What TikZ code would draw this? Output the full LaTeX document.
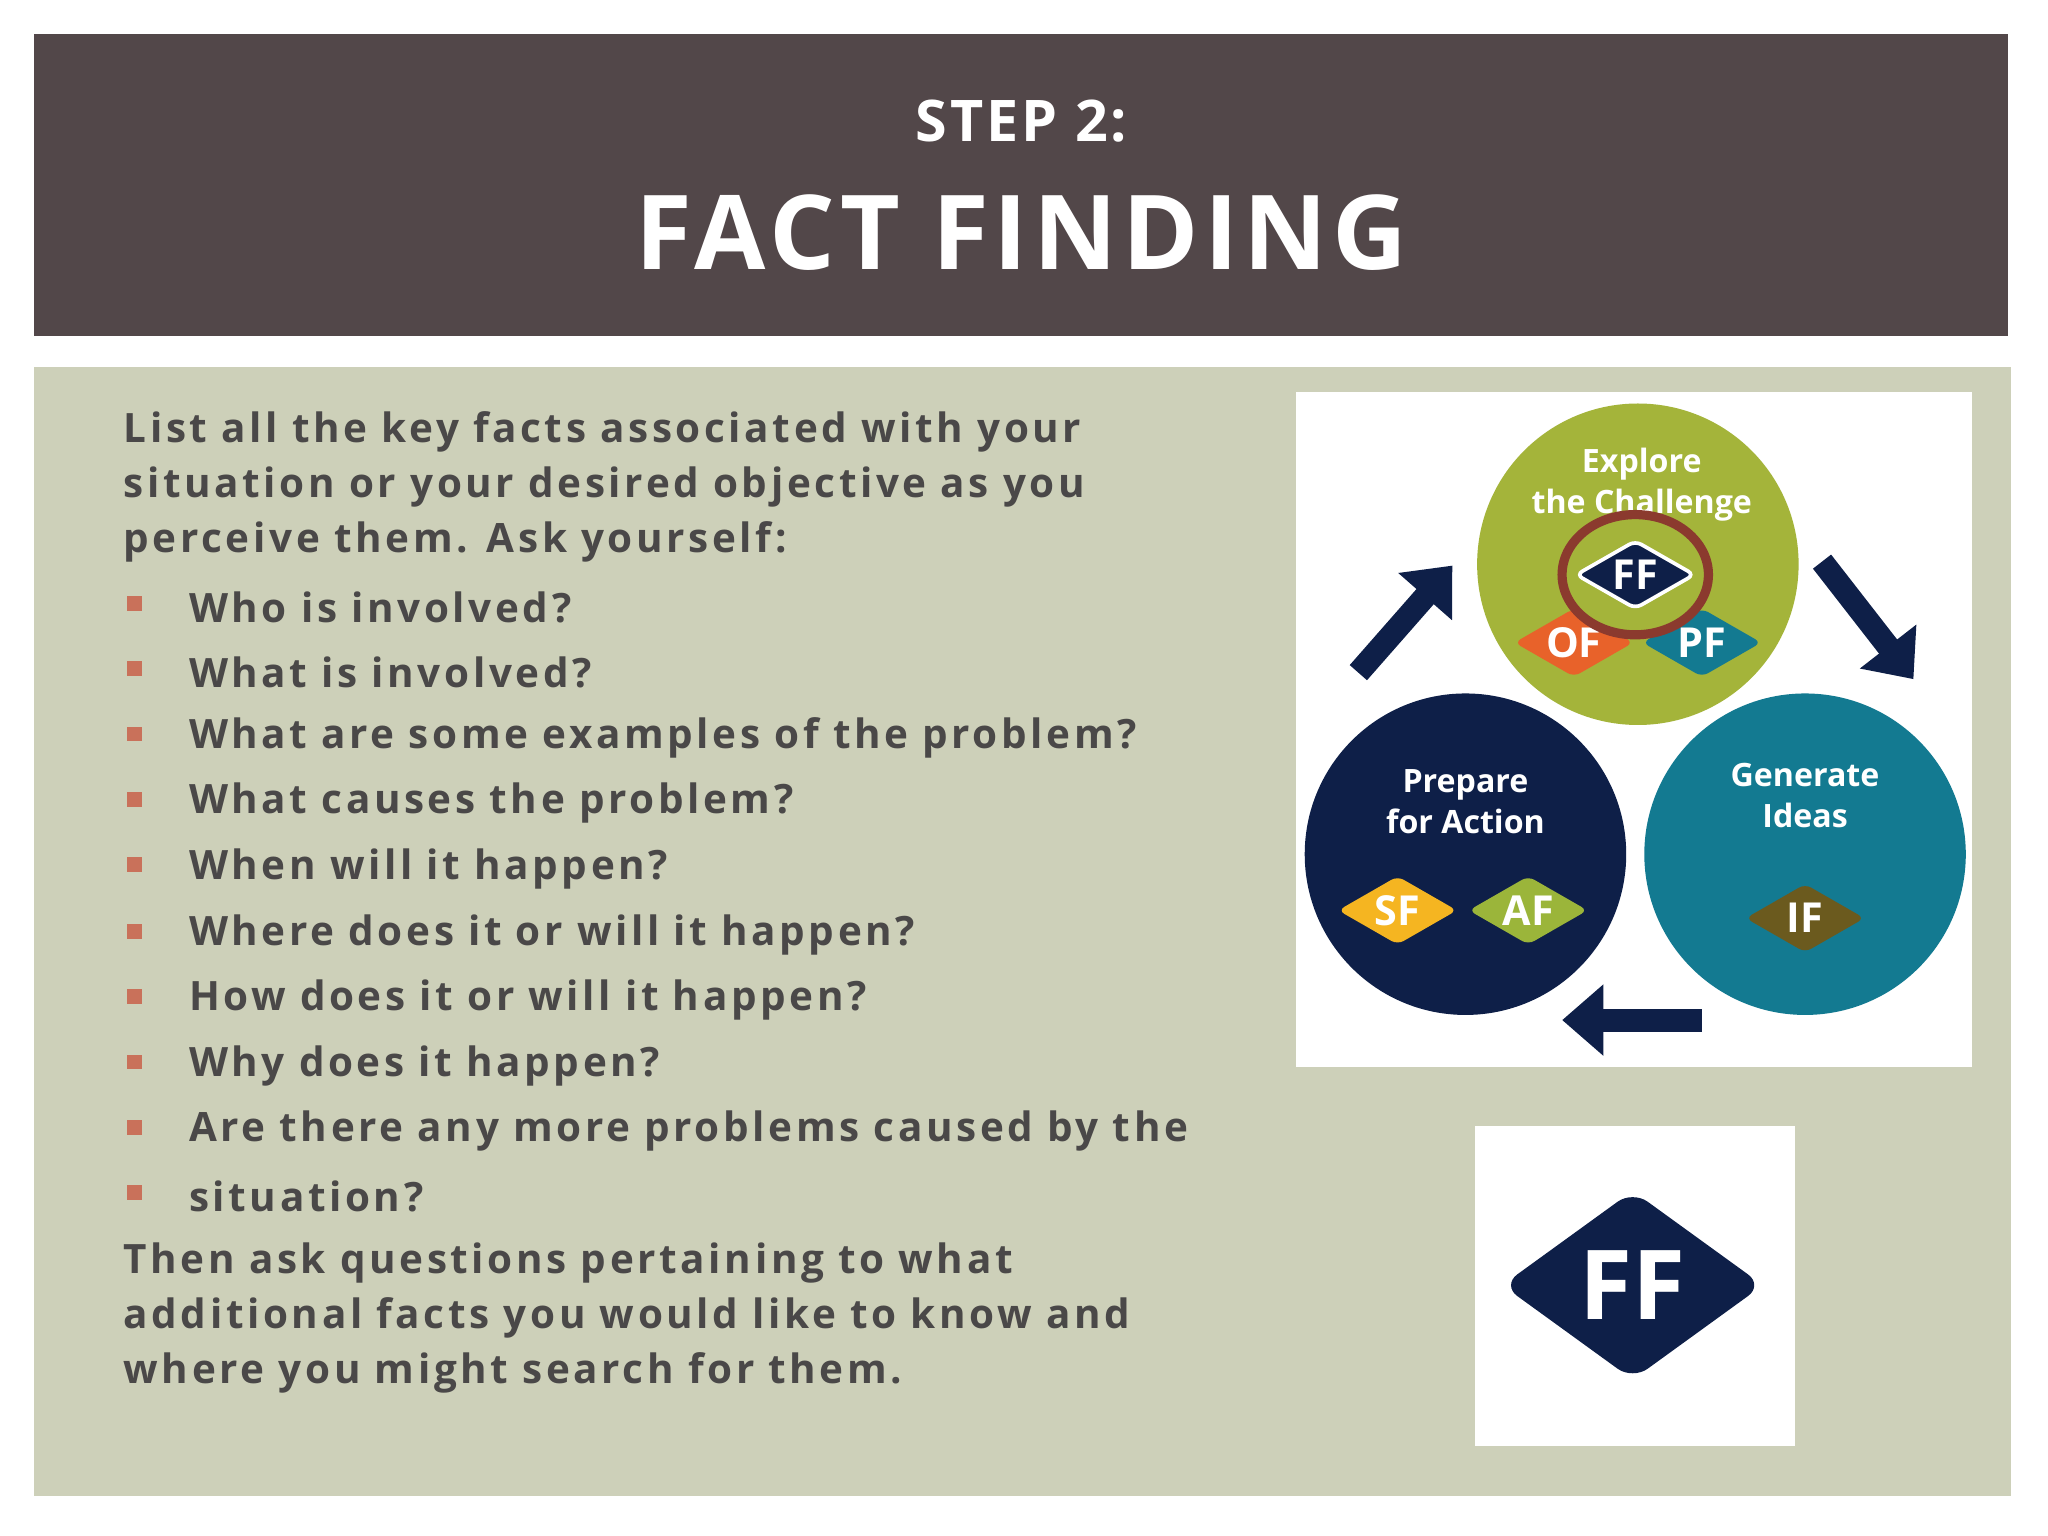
\documentclass[tikz,border=0pt]{standalone}
\usepackage{fontspec}
\setmainfont{Open Sans}
\newfontfamily\spaced[LetterSpace=9]{Open Sans}
\newfontfamily\hdr[LetterSpace=5]{Open Sans}
\usetikzlibrary{shapes.geometric,arrows.meta}
\definecolor{hdrbg}{HTML}{524749}
\definecolor{bodybg}{HTML}{CDD0B9}
\definecolor{txt}{HTML}{4A4848}
\definecolor{bul}{HTML}{C9715A}
\definecolor{cgreen}{HTML}{A4B43A}
\definecolor{cnavy}{HTML}{0E1F48}
\definecolor{cteal}{HTML}{137A91}
\definecolor{corange}{HTML}{E8622A}
\definecolor{cyellow}{HTML}{F5B521}
\definecolor{cleaf}{HTML}{9BB53A}
\definecolor{colive}{HTML}{6B5A1E}
\definecolor{cred}{HTML}{8B3A2E}
\tikzset{
 line/.style={anchor=west,text=txt,font=\spaced\bfseries\fontsize{8.8}{11}\selectfont,inner sep=0},
 bsq/.style={fill=bul,minimum size=3.2pt,inner sep=0},
 dia/.style={diamond,aspect=1.7,minimum width=26pt,minimum height=15pt,inner sep=0,text=white,font=\bfseries\fontsize{9}{10}\selectfont,rounded corners=1.5pt},
 clab/.style={text=white,align=center,font=\bfseries\fontsize{7}{9}\selectfont},
 bigarrow/.style={cnavy,line width=5pt,-{Triangle[length=9pt,width=15pt]}}
}
\begin{document}
\begin{tikzpicture}[x=0.01cm,y=-0.01cm]
\useasboundingbox (0,0) rectangle (1568,1176);
\fill[white] (0,0) rectangle (1568,1176);
\fill[hdrbg] (26,26) rectangle (1537,257);
\node[text=white,font=\hdr\bfseries\fontsize{12.5}{15}\selectfont] (step) at (782,93) {STEP 2:};
\node[text=white,font=\hdr\bfseries\fontsize{22.5}{26}\selectfont] (title) at (782,178) {FACT FINDING};
\fill[bodybg] (26,281) rectangle (1540,1145);
% text
\node[line] (l1) at (94,331) {List all the key facts associated with your};
\node[line] (l2) at (94,373) {situation or your desired objective as you};
\node[line] (l3) at (94,415) {perceive them. Ask yourself:};
\foreach \y/\t [count=\i] in {465/Who is involved?,515/What is involved?,565/What are some examples of the problem?,615/What causes the problem?,665/When will it happen?,716/Where does it or will it happen?,766/How does it or will it happen?,816/Why does it happen?,866/Are there any more problems caused by the,916/situation?}{
 \node[bsq] (b\i) at (103,\y-3) {};
 \node[line] (q\i) at (144,\y) {\t};
}
\node[line] (e1) at (94,967) {Then ask questions pertaining to what};
\node[line] (e2) at (94,1009) {additional facts you would like to know and};
\node[line] (e3) at (94,1051) {where you might search for them.};
% image 1
\fill[white] (992,300) rectangle (1510,817);
\node[circle,fill=cgreen,inner sep=0,minimum size=2.46cm] (exp) at (1254,432) {};
\node[circle,fill=cnavy,inner sep=0,minimum size=2.46cm] (prep) at (1122,654) {};
\node[circle,fill=cteal,inner sep=0,minimum size=2.46cm] (gen) at (1382,654) {};
\node[clab] (texp) at (1257,371) {Explore\\the Challenge};
\node[clab] (tprep) at (1122,614) {Prepare\\for Action};
\node[clab] (tgen) at (1382,609) {Generate\\Ideas};
\node[dia,fill=corange] (of) at (1205,492) {OF};
\node[dia,fill=cteal] (pf) at (1303,492) {PF};
\node[dia,fill=cnavy,draw=white,line width=0.8pt] (ff) at (1252,440) {FF};
\node[draw=cred,line width=2pt,ellipse,minimum width=1.12cm,minimum height=0.92cm] (ring) at (1252,440) {};
\node[dia,fill=cyellow] (sf) at (1070,697) {SF};
\node[dia,fill=cleaf] (af) at (1170,697) {AF};
\node[dia,fill=colive] (if) at (1382,703) {IF};
\coordinate (a1s) at (1040,515); \coordinate (a1e) at (1112,433);
\coordinate (a2s) at (1395,430); \coordinate (a2e) at (1465,520);
\coordinate (a3s) at (1303,781); \coordinate (a3e) at (1196,781);
\draw[bigarrow] (a1s) -- (a1e);
\draw[bigarrow] (a2s) -- (a2e);
\draw[bigarrow] (a3s) -- (a3e);
% image 2
\fill[white] (1129,862) rectangle (1374,1107);
\node[diamond,aspect=1.38,fill=cnavy,minimum width=2cm,minimum height=1.45cm,inner sep=0,rounded corners=4pt,text=white,font=\bfseries\fontsize{21}{22}\selectfont] (bigff) at (1250,984) {FF};
\end{tikzpicture}
\end{document}
